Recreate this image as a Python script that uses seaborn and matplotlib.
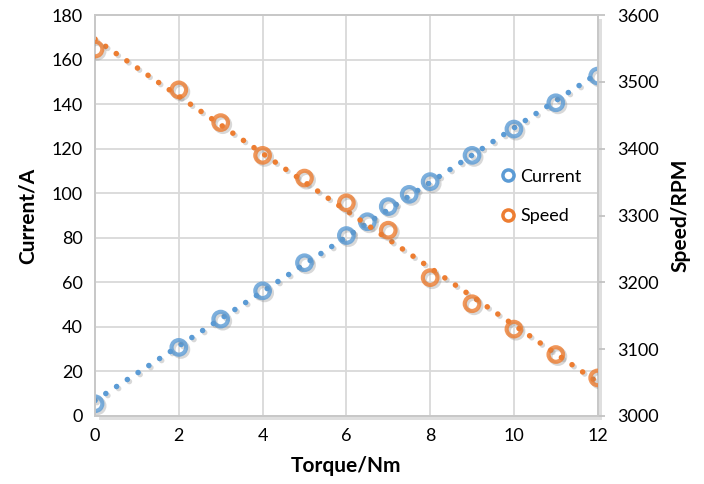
import numpy as np
import pandas as pd
import seaborn as sns
import matplotlib.pyplot as plt
import matplotlib.patheffects as pe
from matplotlib.lines import Line2D

torque_current = [0, 2, 3, 4, 5, 6, 6.5, 7, 7.5, 8, 9, 10, 11, 12]
current_a = [5.5, 30.8, 43.5, 56.2, 68.8, 81.0, 87.2, 94.0, 99.5, 105.2, 117.0, 128.8, 140.6, 152.6]

torque_speed = [0, 2, 3, 4, 5, 6, 7, 8, 9, 10, 11, 12]
speed_rpm = [3549, 3488, 3439, 3390, 3356, 3319, 3278, 3207, 3168, 3130, 3092, 3057]

blue = "#5B9BD5"
orange = "#ED7D31"

current_df = pd.DataFrame({"torque": torque_current, "current": current_a})
speed_df = pd.DataFrame({"torque": torque_speed, "speed": speed_rpm})

sns.set_style("white")
plt.rcParams["font.family"] = ["Lato", "DejaVu Sans"]
plt.rcParams["text.color"] = "black"
plt.rcParams["axes.labelcolor"] = "black"

fig = plt.figure(figsize=(7.04, 4.84), dpi=100)
ax = fig.add_axes([0.135, 0.1405, 0.714, 0.8285])
ax2 = ax.twinx()

# soft drop shadow under the plot area, like the Excel original
ax.patch.set_path_effects([pe.SimplePatchShadow(offset=(3, -3), shadow_rgbFace="gray", alpha=0.25), pe.Normal()])

marker_kws = dict(facecolors="none", linewidths=3, s=110, zorder=3)
line_kws = dict(linewidth=4, linestyle=(0, (0.01, 2.3)), dash_capstyle="round")

sns.regplot(data=current_df, x="torque", y="current", ax=ax, ci=None, color=blue,
            scatter_kws=marker_kws, line_kws=line_kws)
sns.regplot(data=speed_df, x="torque", y="speed", ax=ax2, ci=None, color=orange,
            scatter_kws=marker_kws, line_kws=line_kws)

line_shadow = [pe.SimpleLineShadow(offset=(1.5, -1.5), shadow_color="gray", alpha=0.3), pe.Normal()]
for a in (ax, ax2):
    for art in a.collections + a.lines:
        art.set_path_effects(line_shadow)

ax.set_xlim(0, 12)
ax.set_ylim(0, 180)
ax2.set_ylim(3000, 3600)
ax.set_xticks(range(0, 13, 2))
ax.set_yticks(range(0, 181, 20))
ax2.set_yticks(range(3000, 3601, 100))
ax.grid(True, color="#D9D9D9", linewidth=1.3)
ax.set_axisbelow(True)

ax.set_xlabel("Torque/Nm", fontsize=15, fontweight="bold", labelpad=8)
ax.set_ylabel("Current/A", fontsize=15, fontweight="bold", labelpad=10)
ax2.set_ylabel("Speed/RPM", fontsize=15, fontweight="bold", labelpad=8)

ax.tick_params(axis="both", labelsize=13, length=0, pad=9, labelcolor="black")
ax2.tick_params(axis="y", labelsize=13, length=5, width=1.2, color="#BFBFBF", labelcolor="black", pad=9)

for a in (ax, ax2):
    for side in a.spines.values():
        side.set_color("#C8C8C8")
        side.set_linewidth(1.3)

handles = [
    Line2D([], [], marker="o", linestyle="none", markerfacecolor="none",
           markeredgecolor=blue, markeredgewidth=2.5, markersize=8, label="Current"),
    Line2D([], [], marker="o", linestyle="none", markerfacecolor="none",
           markeredgecolor=orange, markeredgewidth=2.5, markersize=8, label="Speed"),
]
ax2.legend(handles=handles, loc="center right", bbox_to_anchor=(1.0, 0.548), frameon=False,
           fontsize=13, handletextpad=0.1, labelspacing=1.3, handlelength=1.2)

fig.savefig("out.png", dpi=100)
